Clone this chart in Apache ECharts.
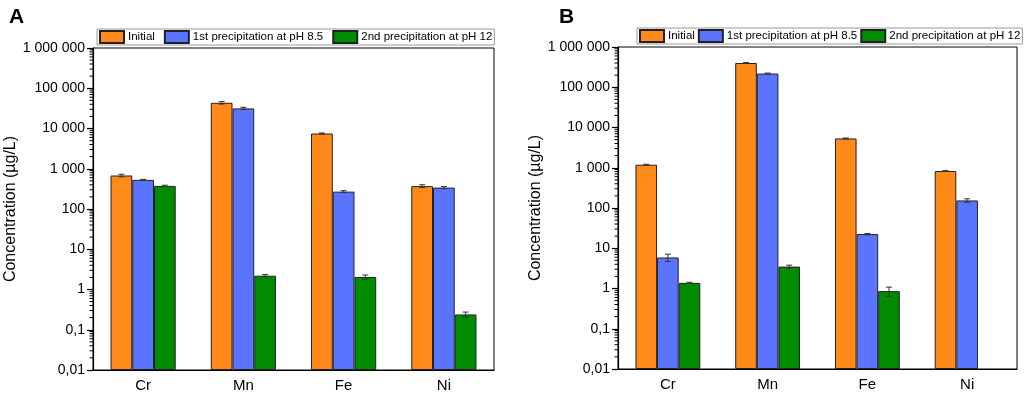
<!DOCTYPE html>
<html>
<head>
<meta charset="utf-8">
<script src="https://cdn.jsdelivr.net/npm/echarts@6/dist/echarts.min.js"></script>
<style>
  html, body { margin: 0; padding: 0; background: #fff; }
  #chart { width: 1024px; height: 394px; }
</style>
</head>
<body>
<div id="chart"></div>
<script>
// data (µg/L)
const categories = ['Cr', 'Mn', 'Fe', 'Ni'];
const seriesNames = ['Initial', '1st precipitation at pH 8.5', '2nd precipitation at pH 12'];
const yTicks = [0.01, 0.1, 1, 10, 100, 1000, 10000, 100000, 1000000];

// panel A
const aInitial = [680, 43500, 7500, 370];
const aFirst = [530, 31600, 270, 340];
const aSecond = [375, 2.2, 2.05, 0.24];
const aInitialErr = [50, 3000, 250, 30];
const aFirstErr = [15, 2000, 15, 20];
const aSecondErr = [15, 0.15, 0.25, 0.035];

// panel B
const bInitial = [1190, 400000, 5340, 830];
const bFirst = [5.9, 219000, 22.5, 154];
const bSecond = [1.38, 3.5, 0.86, '-'];
const bInitialErr = [30, 10000, 150, 20];
const bFirstErr = [1.2, 6000, 0.8, 15];
const bSecondErr = [0.05, 0.3, 0.22, 0];

const colors = ['#ff8a1a', '#5a74ff', '#008c00'];
const FONT = 'Liberation Sans';

// minor log ticks 2..9 inside each decade
const minorTicks = [];
yTicks.slice(0, -1).forEach(d => {
  for (let m = 2; m <= 9; m++) minorTicks.push(Number((d * m).toPrecision(6)));
});

function fmt(v) {
  v = Number(Number(v).toPrecision(6));
  if (v < 1) return String(v).replace('.', ',');
  return String(v).replace(/\B(?=(\d{3})+(?!\d))/g, ' ');
}

function errData(lists, errs) {
  const out = [];
  lists.forEach((vals, k) => {
    vals.forEach((v, i) => {
      if (v !== '-' && errs[k][i] > 0) out.push([i, k, v, errs[k][i]]);
    });
  });
  return out;
}

function renderErr(params, api) {
  const cat = api.value(0), k = api.value(1), v = api.value(2), e = api.value(3);
  const catW = api.size([1, 1])[0];
  const bw = catW * 0.65 / 3;
  const x = api.coord([cat, v])[0] + (k - 1) * bw;
  const yHi = api.coord([cat, v + e])[1];
  const yLo = api.coord([cat, Math.max(v - e, 1e-3)])[1];
  const cap = 3;
  const style = { stroke: '#333', lineWidth: 1 };
  return {
    type: 'group',
    children: [
      { type: 'line', shape: { x1: x, y1: yHi, x2: x, y2: yLo }, style: style },
      { type: 'line', shape: { x1: x - cap, y1: yHi, x2: x + cap, y2: yHi }, style: style },
      { type: 'line', shape: { x1: x - cap, y1: yLo, x2: x + cap, y2: yLo }, style: style }
    ]
  };
}

// short minor tick on the left axis line
function renderMinor(params, api) {
  const v = api.value(1);
  const catW = api.size([1, 1])[0];
  const p = api.coord([0, v]);
  const x0 = p[0] - catW / 2;
  return {
    type: 'line',
    shape: { x1: x0 - 3.5, y1: p[1], x2: x0, y2: p[1] },
    style: { stroke: '#000', lineWidth: 1 }
  };
}

function xAxis(gi) {
  return {
    type: 'category', gridIndex: gi, data: categories,
    axisLine: { lineStyle: { color: '#000', width: 1.2 } },
    axisTick: { alignWithLabel: true, length: 4, lineStyle: { color: '#000' } },
    axisLabel: { color: '#000', fontSize: 15, fontFamily: FONT, margin: 8 }
  };
}

function yAxis(gi) {
  return {
    type: 'log', logBase: 10, gridIndex: gi, min: yTicks[0], max: yTicks[yTicks.length - 1],
    startValue: yTicks[0],
    name: 'Concentration (µg/L)', nameLocation: 'middle', nameGap: 67,
    nameTextStyle: { color: '#000', fontSize: 16, fontFamily: FONT },
    axisLine: { show: true, lineStyle: { color: '#000', width: 1.2 } },
    axisTick: { show: true, length: 6, lineStyle: { color: '#000', width: 1.2 } },
    splitLine: { show: false },
    axisLabel: { color: '#000', fontSize: 14, fontFamily: FONT, margin: 8, formatter: fmt }
  };
}

function bars(gi, lists) {
  return lists.map((vals, k) => ({
    name: seriesNames[k], type: 'bar', xAxisIndex: gi, yAxisIndex: gi,
    data: vals, barGap: '0%', barCategoryGap: '35%',
    itemStyle: { color: colors[k], borderColor: '#222', borderWidth: 1 }
  }));
}

function minorSeries(gi) {
  return {
    type: 'custom', xAxisIndex: gi, yAxisIndex: gi, z: 6, clip: false,
    renderItem: renderMinor, encode: { x: 0, y: 1 }, silent: true,
    data: minorTicks.map(v => [0, v])
  };
}

function legend(left, top, gap) {
  return {
    left: left, top: top, orient: 'horizontal', data: seriesNames,
    width: 420, icon: 'rect',
    itemWidth: 24, itemHeight: 12, itemGap: gap,
    borderColor: '#999', borderWidth: 1, padding: [1, 2],
    textStyle: { color: '#000', fontSize: 11.5, fontFamily: FONT, padding: [0, 0, 0, -1] },
    selectedMode: false
  };
}

const chart = echarts.init(document.getElementById('chart'));
chart.setOption({
  animation: false,
  color: colors,
  title: [
    { text: 'A', left: 4, top: 2, textStyle: { fontSize: 21, fontWeight: 'bold', color: '#000', fontFamily: FONT } },
    { text: 'B', left: 554, top: 2, textStyle: { fontSize: 21, fontWeight: 'bold', color: '#000', fontFamily: FONT } }
  ],
  legend: [legend(97, 29, 9), legend(637, 28, 3)],
  grid: [
    { left: 93, right: 530, top: 48, bottom: 24, show: true, borderColor: '#000', borderWidth: 1 },
    { left: 618, right: 7, top: 47, bottom: 25, show: true, borderColor: '#000', borderWidth: 1 }
  ],
  xAxis: [xAxis(0), xAxis(1)],
  yAxis: [yAxis(0), yAxis(1)],
  series: [
    ...bars(0, [aInitial, aFirst, aSecond]),
    ...bars(1, [bInitial, bFirst, bSecond]),
    {
      type: 'custom', xAxisIndex: 0, yAxisIndex: 0, z: 5, renderItem: renderErr,
      encode: { x: 0, y: 2 },
      data: errData([aInitial, aFirst, aSecond], [aInitialErr, aFirstErr, aSecondErr])
    },
    {
      type: 'custom', xAxisIndex: 1, yAxisIndex: 1, z: 5, renderItem: renderErr,
      encode: { x: 0, y: 2 },
      data: errData([bInitial, bFirst, bSecond], [bInitialErr, bFirstErr, bSecondErr])
    },
    minorSeries(0),
    minorSeries(1)
  ]
});
</script>
</body>
</html>
